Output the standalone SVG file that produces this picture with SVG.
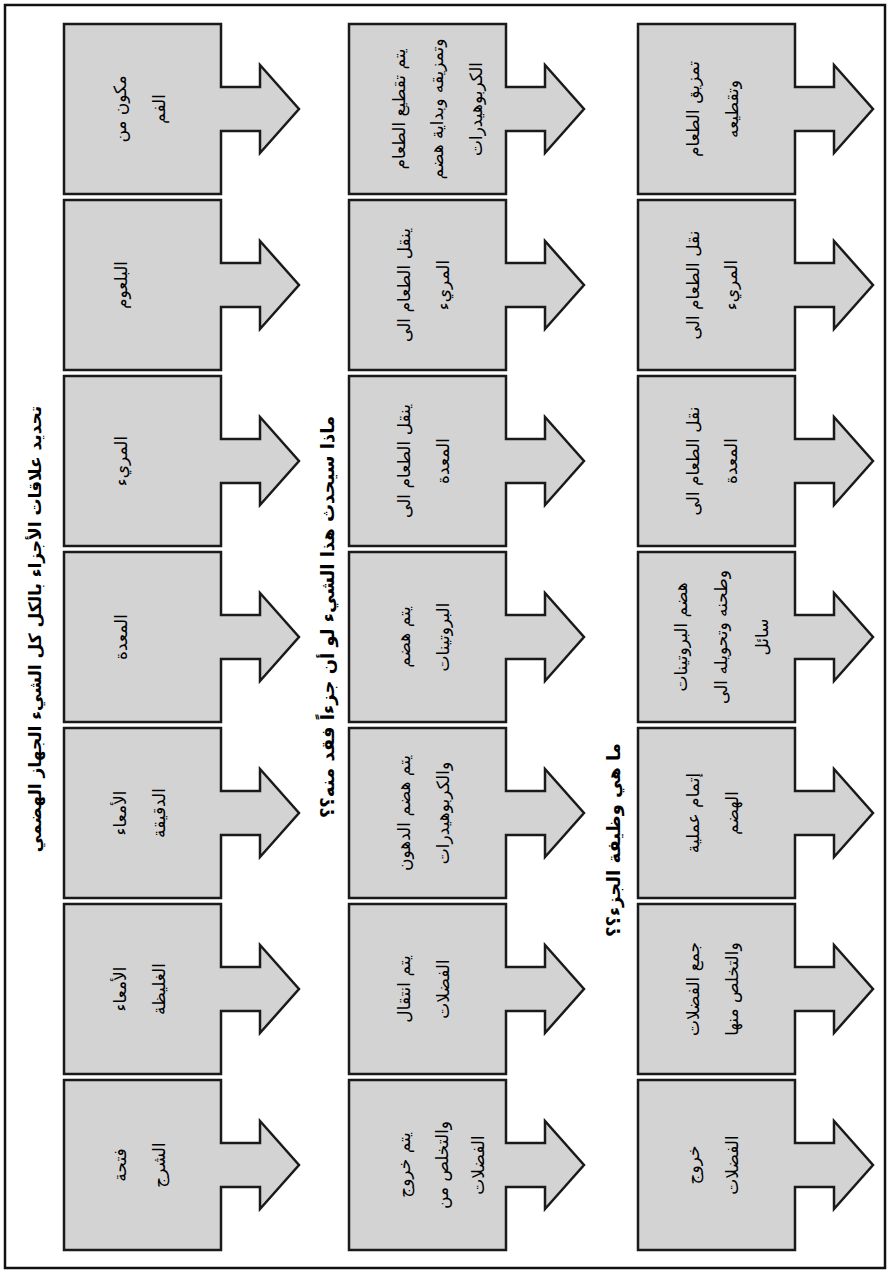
<svg xmlns="http://www.w3.org/2000/svg" width="891" height="1273" viewBox="0 0 891 1273">
<style>
.frame{fill:#ffffff;stroke:#111;stroke-width:2.5}
.node use{fill:#d3d3d3;stroke:#1a1a1a;stroke-width:2.5;stroke-linejoin:miter}
text{font-family:"DejaVu Sans","Noto Sans",sans-serif;fill:#000;text-anchor:middle;dominant-baseline:central}
.lbl{font-size:17px}
.hdr{font-size:17px;font-weight:bold}
.hdr2{font-size:18px;font-weight:bold}
</style>
<defs>
<path id="arrowbox" d="M0,0 H157 V63 H196 V41 L235,85 L196,129 V107 H157 V170 H0 Z"/>
</defs>
<rect class="frame" x="5" y="5" width="880" height="1263"/>
<g id="headers">
<text class="hdr" transform="translate(35,629) rotate(-90)">تحديد علاقات الأجزاء بالكل كل الشيء الجهاز الهضمي</text>
<text class="hdr2" transform="translate(327,617) rotate(-90)">ماذا سيحدث هذا الشيء لو أن جزءاً فقد منه؟؟</text>
<text class="hdr2" transform="translate(613,840) rotate(-90)">ما هي وظيفة الجزء؟؟</text>
</g>
<g id="connectors"></g>

<!-- Column 1: parts -->
<g id="c1r1" class="node" transform="translate(64,24)"><use href="#arrowbox"/>
<text class="lbl" transform="translate(56,85) rotate(-90)">مكون من</text>
<text class="lbl" transform="translate(95,85) rotate(-90)">الفم</text></g>
<g id="c1r2" class="node" transform="translate(64,200)"><use href="#arrowbox"/>
<text class="lbl" transform="translate(57,85) rotate(-90)">البلعوم</text></g>
<g id="c1r3" class="node" transform="translate(64,376)"><use href="#arrowbox"/>
<text class="lbl" transform="translate(57,85) rotate(-90)">المريء</text></g>
<g id="c1r4" class="node" transform="translate(64,552)"><use href="#arrowbox"/>
<text class="lbl" transform="translate(57,85) rotate(-90)">المعدة</text></g>
<g id="c1r5" class="node" transform="translate(64,728)"><use href="#arrowbox"/>
<text class="lbl" transform="translate(56,85) rotate(-90)">الأمعاء</text>
<text class="lbl" transform="translate(95,85) rotate(-90)">الدقيقة</text></g>
<g id="c1r6" class="node" transform="translate(64,904)"><use href="#arrowbox"/>
<text class="lbl" transform="translate(56,85) rotate(-90)">الأمعاء</text>
<text class="lbl" transform="translate(95,85) rotate(-90)">الغليظة</text></g>
<g id="c1r7" class="node" transform="translate(64,1080)"><use href="#arrowbox"/>
<text class="lbl" transform="translate(56,85) rotate(-90)">فتحة</text>
<text class="lbl" transform="translate(95,85) rotate(-90)">الشرج</text></g>

<!-- Column 2: what happens if missing -->
<g id="c2r1" class="node" transform="translate(349,24)"><use href="#arrowbox"/>
<text class="lbl" transform="translate(50,85) rotate(-90)">يتم تقطيع الطعام</text>
<text class="lbl" transform="translate(88,85) rotate(-90)">وتمزيقه وبداية هضم</text>
<text class="lbl" transform="translate(127,85) rotate(-90)">الكربوهيدرات</text></g>
<g id="c2r2" class="node" transform="translate(349,200)"><use href="#arrowbox"/>
<text class="lbl" transform="translate(55,85) rotate(-90)">ينقل الطعام الى</text>
<text class="lbl" transform="translate(94,85) rotate(-90)">المريء</text></g>
<g id="c2r3" class="node" transform="translate(349,376)"><use href="#arrowbox"/>
<text class="lbl" transform="translate(55,85) rotate(-90)">ينقل الطعام الى</text>
<text class="lbl" transform="translate(94,85) rotate(-90)">المعدة</text></g>
<g id="c2r4" class="node" transform="translate(349,552)"><use href="#arrowbox"/>
<text class="lbl" transform="translate(55,85) rotate(-90)">يتم هضم</text>
<text class="lbl" transform="translate(94,85) rotate(-90)">البروتينات</text></g>
<g id="c2r5" class="node" transform="translate(349,728)"><use href="#arrowbox"/>
<text class="lbl" transform="translate(55,85) rotate(-90)">يتم هضم الدهون</text>
<text class="lbl" transform="translate(94,85) rotate(-90)">والكربوهيدرات</text></g>
<g id="c2r6" class="node" transform="translate(349,904)"><use href="#arrowbox"/>
<text class="lbl" transform="translate(55,85) rotate(-90)">يتم انتقال</text>
<text class="lbl" transform="translate(94,85) rotate(-90)">الفضلات</text></g>
<g id="c2r7" class="node" transform="translate(349,1080)"><use href="#arrowbox"/>
<text class="lbl" transform="translate(55,85) rotate(-90)">يتم خروج</text>
<text class="lbl" transform="translate(93,85) rotate(-90)">والتخلص من</text>
<text class="lbl" transform="translate(129,85) rotate(-90)">الفضلات</text></g>

<!-- Column 3: function -->
<g id="c3r1" class="node" transform="translate(638,24)"><use href="#arrowbox"/>
<text class="lbl" transform="translate(55,85) rotate(-90)">تمزيق الطعام</text>
<text class="lbl" transform="translate(94,85) rotate(-90)">وتقطيعه</text></g>
<g id="c3r2" class="node" transform="translate(638,200)"><use href="#arrowbox"/>
<text class="lbl" transform="translate(55,85) rotate(-90)">نقل الطعام الى</text>
<text class="lbl" transform="translate(93,85) rotate(-90)">المريء</text></g>
<g id="c3r3" class="node" transform="translate(638,376)"><use href="#arrowbox"/>
<text class="lbl" transform="translate(55,85) rotate(-90)">نقل الطعام الى</text>
<text class="lbl" transform="translate(93,85) rotate(-90)">المعدة</text></g>
<g id="c3r4" class="node" transform="translate(638,552)"><use href="#arrowbox"/>
<text class="lbl" transform="translate(43,85) rotate(-90)">هضم البروتينات</text>
<text class="lbl" transform="translate(83,85) rotate(-90)">وطحنه وتحويله الى</text>
<text class="lbl" transform="translate(124,85) rotate(-90)">سائل</text></g>
<g id="c3r5" class="node" transform="translate(638,728)"><use href="#arrowbox"/>
<text class="lbl" transform="translate(55,85) rotate(-90)">إتمام عملية</text>
<text class="lbl" transform="translate(94,85) rotate(-90)">الهضم</text></g>
<g id="c3r6" class="node" transform="translate(638,904)"><use href="#arrowbox"/>
<text class="lbl" transform="translate(55,85) rotate(-90)">جمع الفضلات</text>
<text class="lbl" transform="translate(94,85) rotate(-90)">والتخلص منها</text></g>
<g id="c3r7" class="node" transform="translate(638,1080)"><use href="#arrowbox"/>
<text class="lbl" transform="translate(55,85) rotate(-90)">خروج</text>
<text class="lbl" transform="translate(94,85) rotate(-90)">الفضلات</text></g>
</svg>
